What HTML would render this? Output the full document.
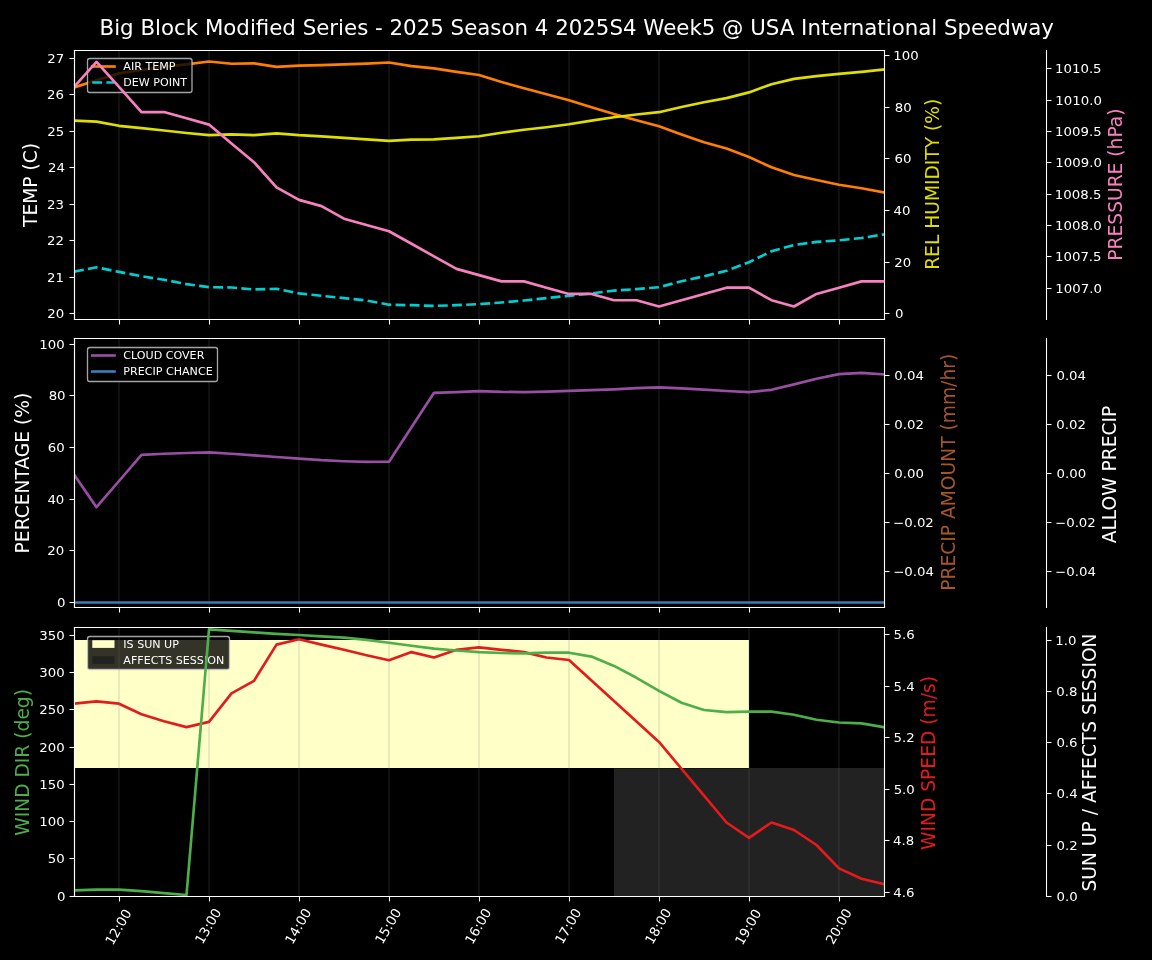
<!DOCTYPE html>
<html lang="en">
<head>
<meta charset="utf-8">
<title>Big Block Modified Series - 2025 Season 4 2025S4 Week5 @ USA International Speedway</title>
<style>
html,body{margin:0;padding:0;background:#000;overflow:hidden}
body{width:1152px;height:960px;font-family:"DejaVu Sans","Liberation Sans",sans-serif}
svg{display:block;position:absolute;left:0;top:0}
svg text{white-space:pre}
</style>
</head>
<body>
<svg width="1152" height="960" viewBox="0 0 864 720">
<defs>
<style type="text/css">*{stroke-linejoin: round; stroke-linecap: butt}</style>
</defs>
<g id="figure_1">
<g id="patch_1">
<path d="M 0 720 L 864 720 L 864 0 L 0 0 z "/>
</g>
<g id="axes_1">
<g id="patch_2">
<path d="M 55.875 239.625 L 663.375 239.625 L 663.375 37.875 L 55.875 37.875 z "/>
</g>
<g id="matplotlib.axis_1">
<g id="xtick_1">
<g id="line2d_1">
<path d="M 89.25 239.625 L 89.25 37.875 " clip-path="url(#p9fe9e23283)" style="fill: none; stroke: #696969; stroke-opacity: 0.15; stroke-width: 1.5; stroke-linecap: square"/>
</g>
<g id="line2d_2">
<g>
<path d="M 0 0 L 0 3.75" transform="translate(89.625 239.625)" style="fill: #ffffff; stroke: #ffffff; stroke-width: 0.8"/>
</g>
</g>
</g>
<g id="xtick_2">
<g id="line2d_3">
<path d="M 156.75 239.625 L 156.75 37.875 " clip-path="url(#p9fe9e23283)" style="fill: none; stroke: #696969; stroke-opacity: 0.15; stroke-width: 1.5; stroke-linecap: square"/>
</g>
<g id="line2d_4">
<g>
<path d="M 0 0 L 0 3.75" transform="translate(157.125 239.625)" style="fill: #ffffff; stroke: #ffffff; stroke-width: 0.8"/>
</g>
</g>
</g>
<g id="xtick_3">
<g id="line2d_5">
<path d="M 224.25 239.625 L 224.25 37.875 " clip-path="url(#p9fe9e23283)" style="fill: none; stroke: #696969; stroke-opacity: 0.15; stroke-width: 1.5; stroke-linecap: square"/>
</g>
<g id="line2d_6">
<g>
<path d="M 0 0 L 0 3.75" transform="translate(224.625 239.625)" style="fill: #ffffff; stroke: #ffffff; stroke-width: 0.8"/>
</g>
</g>
</g>
<g id="xtick_4">
<g id="line2d_7">
<path d="M 291.75 239.625 L 291.75 37.875 " clip-path="url(#p9fe9e23283)" style="fill: none; stroke: #696969; stroke-opacity: 0.15; stroke-width: 1.5; stroke-linecap: square"/>
</g>
<g id="line2d_8">
<g>
<path d="M 0 0 L 0 3.75" transform="translate(292.125 239.625)" style="fill: #ffffff; stroke: #ffffff; stroke-width: 0.8"/>
</g>
</g>
</g>
<g id="xtick_5">
<g id="line2d_9">
<path d="M 359.25 239.625 L 359.25 37.875 " clip-path="url(#p9fe9e23283)" style="fill: none; stroke: #696969; stroke-opacity: 0.15; stroke-width: 1.5; stroke-linecap: square"/>
</g>
<g id="line2d_10">
<g>
<path d="M 0 0 L 0 3.75" transform="translate(359.625 239.625)" style="fill: #ffffff; stroke: #ffffff; stroke-width: 0.8"/>
</g>
</g>
</g>
<g id="xtick_6">
<g id="line2d_11">
<path d="M 426.75 239.625 L 426.75 37.875 " clip-path="url(#p9fe9e23283)" style="fill: none; stroke: #696969; stroke-opacity: 0.15; stroke-width: 1.5; stroke-linecap: square"/>
</g>
<g id="line2d_12">
<g>
<path d="M 0 0 L 0 3.75" transform="translate(427.125 239.625)" style="fill: #ffffff; stroke: #ffffff; stroke-width: 0.8"/>
</g>
</g>
</g>
<g id="xtick_7">
<g id="line2d_13">
<path d="M 494.25 239.625 L 494.25 37.875 " clip-path="url(#p9fe9e23283)" style="fill: none; stroke: #696969; stroke-opacity: 0.15; stroke-width: 1.5; stroke-linecap: square"/>
</g>
<g id="line2d_14">
<g>
<path d="M 0 0 L 0 3.75" transform="translate(494.625 239.625)" style="fill: #ffffff; stroke: #ffffff; stroke-width: 0.8"/>
</g>
</g>
</g>
<g id="xtick_8">
<g id="line2d_15">
<path d="M 561.75 239.625 L 561.75 37.875 " clip-path="url(#p9fe9e23283)" style="fill: none; stroke: #696969; stroke-opacity: 0.15; stroke-width: 1.5; stroke-linecap: square"/>
</g>
<g id="line2d_16">
<g>
<path d="M 0 0 L 0 3.75" transform="translate(562.125 239.625)" style="fill: #ffffff; stroke: #ffffff; stroke-width: 0.8"/>
</g>
</g>
</g>
<g id="xtick_9">
<g id="line2d_17">
<path d="M 629.25 239.625 L 629.25 37.875 " clip-path="url(#p9fe9e23283)" style="fill: none; stroke: #696969; stroke-opacity: 0.15; stroke-width: 1.5; stroke-linecap: square"/>
</g>
<g id="line2d_18">
<g>
<path d="M 0 0 L 0 3.75" transform="translate(629.625 239.625)" style="fill: #ffffff; stroke: #ffffff; stroke-width: 0.8"/>
</g>
</g>
</g>
</g>
<g id="matplotlib.axis_2">
<g id="ytick_1">
<g id="line2d_19">
<g>
<path d="M 0 0 L -3.75 0" transform="translate(55.875 235.125)" style="fill: #ffffff; stroke: #ffffff; stroke-width: 0.8"/>
</g>
</g>
<g id="text_1">
<text style="font-size: 10px; font-family: 'DejaVu Sans', 'Liberation Sans', sans-serif; text-anchor: end; fill: #ffffff" x="48.5" y="238.549219" transform="translate(-0.356 0.000) matrix(1 0 0 0.930 0 16.6984)">20</text>
</g>
</g>
<g id="ytick_2">
<g id="line2d_20">
<g>
<path d="M 0 0 L -3.75 0" transform="translate(55.875 208.125)" style="fill: #ffffff; stroke: #ffffff; stroke-width: 0.8"/>
</g>
</g>
<g id="text_2">
<text style="font-size: 10px; font-family: 'DejaVu Sans', 'Liberation Sans', sans-serif; text-anchor: end; fill: #ffffff" x="48.5" y="211.22779" transform="translate(-0.441 0.000) matrix(1 0 0 0.930 0 14.7859)">21</text>
</g>
</g>
<g id="ytick_3">
<g id="line2d_21">
<g>
<path d="M 0 0 L -3.75 0" transform="translate(55.875 180.375)" style="fill: #ffffff; stroke: #ffffff; stroke-width: 0.8"/>
</g>
</g>
<g id="text_3">
<text style="font-size: 10px; font-family: 'DejaVu Sans', 'Liberation Sans', sans-serif; text-anchor: end; fill: #ffffff" x="48.5" y="183.906362" transform="translate(-0.462 0.000) matrix(1 0 0 0.930 0 12.8734)">22</text>
</g>
</g>
<g id="ytick_4">
<g id="line2d_22">
<g>
<path d="M 0 0 L -3.75 0" transform="translate(55.875 153.375)" style="fill: #ffffff; stroke: #ffffff; stroke-width: 0.8"/>
</g>
</g>
<g id="text_4">
<text style="font-size: 10px; font-family: 'DejaVu Sans', 'Liberation Sans', sans-serif; text-anchor: end; fill: #ffffff" x="48.5" y="156.584933" transform="translate(-0.498 0.000) matrix(1 0 0 0.930 0 10.9609)">23</text>
</g>
</g>
<g id="ytick_5">
<g id="line2d_23">
<g>
<path d="M 0 0 L -3.75 0" transform="translate(55.875 125.625)" style="fill: #ffffff; stroke: #ffffff; stroke-width: 0.8"/>
</g>
</g>
<g id="text_5">
<text style="font-size: 10px; font-family: 'DejaVu Sans', 'Liberation Sans', sans-serif; text-anchor: end; fill: #ffffff" x="48.5" y="129.263504" transform="translate(0.309 0.000) matrix(1 0 0 0.930 0 9.0484)">24</text>
</g>
</g>
<g id="ytick_6">
<g id="line2d_24">
<g>
<path d="M 0 0 L -3.75 0" transform="translate(55.875 98.625)" style="fill: #ffffff; stroke: #ffffff; stroke-width: 0.8"/>
</g>
</g>
<g id="text_6">
<text style="font-size: 10px; font-family: 'DejaVu Sans', 'Liberation Sans', sans-serif; text-anchor: end; fill: #ffffff" x="48.5" y="101.942076" transform="translate(-0.408 0.000) matrix(1 0 0 0.930 0 7.1359)">25</text>
</g>
</g>
<g id="ytick_7">
<g id="line2d_25">
<g>
<path d="M 0 0 L -3.75 0" transform="translate(55.875 70.875)" style="fill: #ffffff; stroke: #ffffff; stroke-width: 0.8"/>
</g>
</g>
<g id="text_7">
<text style="font-size: 10px; font-family: 'DejaVu Sans', 'Liberation Sans', sans-serif; text-anchor: end; fill: #ffffff" x="48.5" y="74.620647" transform="translate(-0.495 0.000) matrix(1 0 0 0.930 0 5.2234)">26</text>
</g>
</g>
<g id="ytick_8">
<g id="line2d_26">
<g>
<path d="M 0 0 L -3.75 0" transform="translate(55.875 43.875)" style="fill: #ffffff; stroke: #ffffff; stroke-width: 0.8"/>
</g>
</g>
<g id="text_8">
<text style="font-size: 10px; font-family: 'DejaVu Sans', 'Liberation Sans', sans-serif; text-anchor: end; fill: #ffffff" x="48.5" y="47.299219" transform="translate(-0.411 0.000) matrix(1 0 0 0.930 0 3.3109)">27</text>
</g>
</g>
<g id="text_9">
<text style="font-size: 14px; font-family: 'DejaVu Sans', 'Liberation Sans', sans-serif; text-anchor: middle; fill: #ffffff" x="27.975" y="138.750" transform="translate(0.000 0.000) rotate(-90 27.975 138.750)">TEMP (C)</text>
</g>
</g>
<g id="line2d_27">
<path d="M 55.5 65.625 L 72.375 60.15 L 89.25 55.05 L 106.125 52.5 L 123 50.175 L 139.875 48.3 L 156.75 46.125 L 173.625 47.8125 L 190.5 47.475 L 207.375 50.175 L 224.25 49.2 L 241.125 48.9 L 258 48.3 L 274.875 47.7 L 291.75 46.875 L 308.625 49.575 L 325.5 51.3 L 342.375 53.925 L 359.25 56.25 L 376.125 61.5 L 393 66.225 L 409.875 70.65 L 426.75 75.225 L 443.625 80.4 L 460.5 85.575 L 477.375 90.225 L 494.25 94.6875 L 511.125 100.8 L 528 106.65 L 544.875 111.375 L 561.75 117.75 L 578.625 125.475 L 595.5 131.25 L 612.375 135 L 629.25 138.525 L 646.125 141.225 L 663 144.375 " clip-path="url(#p9fe9e23283)" style="fill: none; stroke: #ff7f00; stroke-width: 2; stroke-linecap: square"/>
</g>
<g id="line2d_28">
<path d="M 55.5 203.7 L 72.375 200.475 L 89.25 203.925 L 106.125 207.1875 L 123 209.85 L 139.875 213.075 L 156.75 215.4 L 173.625 215.625 L 190.5 217.125 L 207.375 216.5625 L 224.25 220.05 L 241.125 221.85 L 258 223.575 L 274.875 225.375 L 291.75 228.525 L 308.625 228.9 L 325.5 229.425 L 342.375 228.9 L 359.25 228.075 L 376.125 226.875 L 393 225.375 L 409.875 223.575 L 426.75 221.85 L 443.625 220.05 L 460.5 217.95 L 477.375 216.825 L 494.25 215.4 L 511.125 210.9375 L 528 207.1875 L 544.875 203.1 L 561.75 196.65 L 578.625 188.4375 L 595.5 183.75 L 612.375 181.425 L 629.25 180.225 L 646.125 178.5 L 663 175.8 " clip-path="url(#p9fe9e23283)" style="fill: none; stroke-dasharray: 7.4,3.2; stroke-dashoffset: 0; stroke: #00ced1; stroke-width: 2"/>
</g>
<g id="patch_3">
<path d="M 55.875 239.625 L 55.875 37.875 " style="fill: none; stroke: #ffffff; stroke-width: 0.8; stroke-linejoin: miter; stroke-linecap: square"/>
</g>
<g id="patch_4">
<path d="M 663.375 239.625 L 663.375 37.875 " style="fill: none; stroke: #ffffff; stroke-width: 0.8; stroke-linejoin: miter; stroke-linecap: square"/>
</g>
<g id="patch_5">
<path d="M 55.875 239.625 L 663.375 239.625 " style="fill: none; stroke: #ffffff; stroke-width: 0.8; stroke-linejoin: miter; stroke-linecap: square"/>
</g>
<g id="patch_6">
<path d="M 55.875 37.875 L 663.375 37.875 " style="fill: none; stroke: #ffffff; stroke-width: 0.8; stroke-linejoin: miter; stroke-linecap: square"/>
</g>
<g id="patch_7">
<path d="M 67.275 43.875 L 142.35 43.875 Q 144 43.875 144 45.525 L 144 67.725 Q 144 69.375 142.35 69.375 L 67.275 69.375 Q 65.625 69.375 65.625 67.725 L 65.625 45.525 Q 65.625 43.875 67.275 43.875 z " style="fill-opacity: 0.8; stroke: #cccccc; stroke-opacity: 0.8; stroke-linejoin: miter"/>
</g>
<g id="line2d_29">
<path d="M 69.225 49.875 L 85.875 49.875 " style="fill: none; stroke: #ff7f00; stroke-width: 2; stroke-linecap: square"/>
</g>
<g id="text_10">
<text style="font-size: 8.33px; font-family: 'DejaVu Sans', 'Liberation Sans', sans-serif; text-anchor: start; fill: #ffffff" x="92.475" y="52.425" transform="rotate(-0 92.475 52.425)">AIR TEMP</text>
</g>
<g id="line2d_30">
<path d="M 69.225 61.875 L 85.875 61.875 " style="fill: none; stroke-dasharray: 7.4,3.2; stroke-dashoffset: 0; stroke: #00ced1; stroke-width: 2"/>
</g>
<g id="text_11">
<text style="font-size: 8.33px; font-family: 'DejaVu Sans', 'Liberation Sans', sans-serif; text-anchor: start; fill: #ffffff" x="92.475" y="64.425" transform="rotate(-0 92.475 64.425)">DEW POINT</text>
</g>
</g>
<g id="axes_2">
<g id="matplotlib.axis_3">
<g id="ytick_9">
<g id="line2d_31">
<g>
<path d="M 0 0 L 3.75 0" transform="translate(663.375 235.125)" style="fill: #ffffff; stroke: #ffffff; stroke-width: 0.8"/>
</g>
</g>
<g id="text_12">
<text style="font-size: 10px; font-family: 'DejaVu Sans', 'Liberation Sans', sans-serif; text-anchor: start; fill: #ffffff" x="670.675" y="238.836238" transform="translate(0.596 0.000) matrix(1 0 0 0.930 0 16.7185)">0</text>
</g>
</g>
<g id="ytick_10">
<g id="line2d_32">
<g>
<path d="M 0 0 L 3.75 0" transform="translate(663.375 196.875)" style="fill: #ffffff; stroke: #ffffff; stroke-width: 0.8"/>
</g>
</g>
<g id="text_13">
<text style="font-size: 10px; font-family: 'DejaVu Sans', 'Liberation Sans', sans-serif; text-anchor: start; fill: #ffffff" x="670.675" y="200.08143" transform="translate(0.000 0.000) matrix(1 0 0 0.930 0 14.0057)">20</text>
</g>
</g>
<g id="ytick_11">
<g id="line2d_33">
<g>
<path d="M 0 0 L 3.75 0" transform="translate(663.375 157.875)" style="fill: #ffffff; stroke: #ffffff; stroke-width: 0.8"/>
</g>
</g>
<g id="text_14">
<text style="font-size: 10px; font-family: 'DejaVu Sans', 'Liberation Sans', sans-serif; text-anchor: start; fill: #ffffff" x="670.675" y="161.326623" transform="translate(-0.616 0.000) matrix(1 0 0 0.930 0 11.2929)">40</text>
</g>
</g>
<g id="ytick_12">
<g id="line2d_34">
<g>
<path d="M 0 0 L 3.75 0" transform="translate(663.375 118.875)" style="fill: #ffffff; stroke: #ffffff; stroke-width: 0.8"/>
</g>
</g>
<g id="text_15">
<text style="font-size: 10px; font-family: 'DejaVu Sans', 'Liberation Sans', sans-serif; text-anchor: start; fill: #ffffff" x="670.675" y="122.571815" transform="translate(0.229 0.000) matrix(1 0 0 0.930 0 8.5800)">60</text>
</g>
</g>
<g id="ytick_13">
<g id="line2d_35">
<g>
<path d="M 0 0 L 3.75 0" transform="translate(663.375 80.625)" style="fill: #ffffff; stroke: #ffffff; stroke-width: 0.8"/>
</g>
</g>
<g id="text_16">
<text style="font-size: 10px; font-family: 'DejaVu Sans', 'Liberation Sans', sans-serif; text-anchor: start; fill: #ffffff" x="670.675" y="83.817007" transform="translate(0.325 0.000) matrix(1 0 0 0.930 0 5.8672)">80</text>
</g>
</g>
<g id="ytick_14">
<g id="line2d_36">
<g>
<path d="M 0 0 L 3.75 0" transform="translate(663.375 41.625)" style="fill: #ffffff; stroke: #ffffff; stroke-width: 0.8"/>
</g>
</g>
<g id="text_17">
<text style="font-size: 10px; font-family: 'DejaVu Sans', 'Liberation Sans', sans-serif; text-anchor: start; fill: #ffffff" x="670.675" y="45.0622" transform="translate(-0.699 0.000) matrix(1 0 0 0.930 0 3.1544)">100</text>
</g>
</g>
<g id="text_18">
<text style="font-size: 14px; font-family: 'DejaVu Sans', 'Liberation Sans', sans-serif; text-anchor: middle; fill: #dede00" x="704.602" y="138.750" transform="translate(0.000 -0.572) rotate(-90 704.602 138.750)">REL HUMIDITY (%)</text>
</g>
</g>
<g id="line2d_37">
<path d="M 55.5 90.45 L 72.375 91.2 L 89.25 94.35 L 106.125 96.075 L 123 97.875 L 139.875 99.75 L 156.75 101.4 L 173.625 100.8 L 190.5 101.4 L 207.375 99.975 L 224.25 101.4 L 241.125 102.3 L 258 103.35 L 274.875 104.55 L 291.75 105.6 L 308.625 104.775 L 325.5 104.55 L 342.375 103.35 L 359.25 102.1875 L 376.125 99.6 L 393 97.35 L 409.875 95.4 L 426.75 93.15 L 443.625 90.45 L 460.5 87.9 L 477.375 85.875 L 494.25 84.15 L 511.125 80.25 L 528 76.725 L 544.875 73.575 L 561.75 69.3 L 578.625 63.15 L 595.5 59.175 L 612.375 57.075 L 629.25 55.425 L 646.125 53.925 L 663 52.125 " clip-path="url(#pb48f5ffb36)" style="fill: none; stroke: #dede00; stroke-width: 2; stroke-linecap: square"/>
</g>
<g id="patch_8">
<path d="M 55.875 239.625 L 55.875 37.875 " style="fill: none; stroke: #ffffff; stroke-width: 0.8; stroke-linejoin: miter; stroke-linecap: square"/>
</g>
<g id="patch_9">
<path d="M 663.375 239.625 L 663.375 37.875 " style="fill: none; stroke: #ffffff; stroke-width: 0.8; stroke-linejoin: miter; stroke-linecap: square"/>
</g>
<g id="patch_10">
<path d="M 55.875 239.625 L 663.375 239.625 " style="fill: none; stroke: #ffffff; stroke-width: 0.8; stroke-linejoin: miter; stroke-linecap: square"/>
</g>
<g id="patch_11">
<path d="M 55.875 37.875 L 663.375 37.875 " style="fill: none; stroke: #ffffff; stroke-width: 0.8; stroke-linejoin: miter; stroke-linecap: square"/>
</g>
</g>
<g id="axes_3">
<g id="matplotlib.axis_4">
<g id="ytick_15">
<g id="line2d_38">
<g>
<path d="M 0 0 L 3.75 0" transform="translate(784.875 216.375)" style="fill: #ffffff; stroke: #ffffff; stroke-width: 0.8"/>
</g>
</g>
<g id="text_19">
<text style="font-size: 10px; font-family: 'DejaVu Sans', 'Liberation Sans', sans-serif; text-anchor: start; fill: #ffffff" x="791.5" y="219.458834" transform="translate(0.000 0.000) matrix(1 0 0 0.930 0 15.3621)">1007.0</text>
</g>
</g>
<g id="ytick_16">
<g id="line2d_39">
<g>
<path d="M 0 0 L 3.75 0" transform="translate(784.875 192.375)" style="fill: #ffffff; stroke: #ffffff; stroke-width: 0.8"/>
</g>
</g>
<g id="text_20">
<text style="font-size: 10px; font-family: 'DejaVu Sans', 'Liberation Sans', sans-serif; text-anchor: start; fill: #ffffff" x="791.5" y="195.971072" transform="translate(-0.269 0.000) matrix(1 0 0 0.930 0 13.7180)">1007.5</text>
</g>
</g>
<g id="ytick_17">
<g id="line2d_40">
<g>
<path d="M 0 0 L 3.75 0" transform="translate(784.875 169.125)" style="fill: #ffffff; stroke: #ffffff; stroke-width: 0.8"/>
</g>
</g>
<g id="text_21">
<text style="font-size: 10px; font-family: 'DejaVu Sans', 'Liberation Sans', sans-serif; text-anchor: start; fill: #ffffff" x="791.5" y="172.48331" transform="translate(-0.219 0.000) matrix(1 0 0 0.930 0 12.0738)">1008.0</text>
</g>
</g>
<g id="ytick_18">
<g id="line2d_41">
<g>
<path d="M 0 0 L 3.75 0" transform="translate(784.875 145.875)" style="fill: #ffffff; stroke: #ffffff; stroke-width: 0.8"/>
</g>
</g>
<g id="text_22">
<text style="font-size: 10px; font-family: 'DejaVu Sans', 'Liberation Sans', sans-serif; text-anchor: start; fill: #ffffff" x="791.5" y="148.995547" transform="translate(-0.376 0.000) matrix(1 0 0 0.930 0 10.4297)">1008.5</text>
</g>
</g>
<g id="ytick_19">
<g id="line2d_42">
<g>
<path d="M 0 0 L 3.75 0" transform="translate(784.875 121.875)" style="fill: #ffffff; stroke: #ffffff; stroke-width: 0.8"/>
</g>
</g>
<g id="text_23">
<text style="font-size: 10px; font-family: 'DejaVu Sans', 'Liberation Sans', sans-serif; text-anchor: start; fill: #ffffff" x="791.5" y="125.507785" transform="translate(0.000 0.000) matrix(1 0 0 0.930 0 8.7855)">1009.0</text>
</g>
</g>
<g id="ytick_20">
<g id="line2d_43">
<g>
<path d="M 0 0 L 3.75 0" transform="translate(784.875 98.625)" style="fill: #ffffff; stroke: #ffffff; stroke-width: 0.8"/>
</g>
</g>
<g id="text_24">
<text style="font-size: 10px; font-family: 'DejaVu Sans', 'Liberation Sans', sans-serif; text-anchor: start; fill: #ffffff" x="791.5" y="102.020023" transform="translate(-0.242 0.000) matrix(1 0 0 0.930 0 7.1414)">1009.5</text>
</g>
</g>
<g id="ytick_21">
<g id="line2d_44">
<g>
<path d="M 0 0 L 3.75 0" transform="translate(784.875 75.375)" style="fill: #ffffff; stroke: #ffffff; stroke-width: 0.8"/>
</g>
</g>
<g id="text_25">
<text style="font-size: 10px; font-family: 'DejaVu Sans', 'Liberation Sans', sans-serif; text-anchor: start; fill: #ffffff" x="791.5" y="78.532261" transform="translate(0.000 0.000) matrix(1 0 0 0.930 0 5.4973)">1010.0</text>
</g>
</g>
<g id="ytick_22">
<g id="line2d_45">
<g>
<path d="M 0 0 L 3.75 0" transform="translate(784.875 51.375)" style="fill: #ffffff; stroke: #ffffff; stroke-width: 0.8"/>
</g>
</g>
<g id="text_26">
<text style="font-size: 10px; font-family: 'DejaVu Sans', 'Liberation Sans', sans-serif; text-anchor: start; fill: #ffffff" x="791.5" y="55.044498" transform="translate(-0.251 0.000) matrix(1 0 0 0.930 0 3.8531)">1010.5</text>
</g>
</g>
<g id="text_27">
<text style="font-size: 14px; font-family: 'DejaVu Sans', 'Liberation Sans', sans-serif; text-anchor: middle; fill: #f781bf" x="841.253" y="138.750" transform="translate(0.000 -0.320) rotate(-90 841.253 138.750)">PRESSURE (hPa)</text>
</g>
</g>
<g id="line2d_46">
<path d="M 55.5 65.2215 L 72.375 46.4055 L 89.25 65.2215 L 106.125 84.0375 L 123 84.0375 L 139.875 88.7415 L 156.75 93.4455 L 173.625 107.5575 L 190.5 121.6695 L 207.375 140.4855 L 224.25 149.8935 L 241.125 154.5975 L 258 164.0055 L 274.875 168.7095 L 291.75 173.4135 L 308.625 182.8215 L 325.5 192.2295 L 342.375 201.6375 L 359.25 206.3415 L 376.125 211.0455 L 393 211.0455 L 409.875 215.7495 L 426.75 220.4535 L 443.625 220.4535 L 460.5 225.1575 L 477.375 225.1575 L 494.25 229.8615 L 511.125 225.1575 L 528 220.4535 L 544.875 215.7495 L 561.75 215.7495 L 578.625 225.1575 L 595.5 229.8615 L 612.375 220.4535 L 629.25 215.7495 L 646.125 211.0455 L 663 211.0455 " clip-path="url(#pb48f5ffb36)" style="fill: none; stroke: #f781bf; stroke-width: 2; stroke-linecap: square"/>
</g>
<g id="patch_12">
<path d="M 55.875 239.625 L 55.875 37.875 " style="fill: none; stroke: #ffffff; stroke-width: 0.8; stroke-linejoin: miter; stroke-linecap: square"/>
</g>
<g id="patch_13">
<path d="M 784.875 239.625 L 784.875 37.875 " style="fill: none; stroke: #ffffff; stroke-width: 0.8; stroke-linejoin: miter; stroke-linecap: square"/>
</g>
<g id="patch_14">
<path d="M 55.875 239.625 L 663.375 239.625 " style="fill: none; stroke: #ffffff; stroke-width: 0.8; stroke-linejoin: miter; stroke-linecap: square"/>
</g>
<g id="patch_15">
<path d="M 55.875 37.875 L 663.375 37.875 " style="fill: none; stroke: #ffffff; stroke-width: 0.8; stroke-linejoin: miter; stroke-linecap: square"/>
</g>
</g>
<g id="axes_4">
<g id="patch_16">
<path d="M 55.875 455.625 L 663.375 455.625 L 663.375 253.875 L 55.875 253.875 z "/>
</g>
<g id="matplotlib.axis_5">
<g id="xtick_10">
<g id="line2d_47">
<path d="M 89.25 455.625 L 89.25 253.875 " clip-path="url(#p041c2277cc)" style="fill: none; stroke: #696969; stroke-opacity: 0.15; stroke-width: 1.5; stroke-linecap: square"/>
</g>
<g id="line2d_48">
<g>
<path d="M 0 0 L 0 3.75" transform="translate(89.625 455.625)" style="fill: #ffffff; stroke: #ffffff; stroke-width: 0.8"/>
</g>
</g>
</g>
<g id="xtick_11">
<g id="line2d_49">
<path d="M 156.75 455.625 L 156.75 253.875 " clip-path="url(#p041c2277cc)" style="fill: none; stroke: #696969; stroke-opacity: 0.15; stroke-width: 1.5; stroke-linecap: square"/>
</g>
<g id="line2d_50">
<g>
<path d="M 0 0 L 0 3.75" transform="translate(157.125 455.625)" style="fill: #ffffff; stroke: #ffffff; stroke-width: 0.8"/>
</g>
</g>
</g>
<g id="xtick_12">
<g id="line2d_51">
<path d="M 224.25 455.625 L 224.25 253.875 " clip-path="url(#p041c2277cc)" style="fill: none; stroke: #696969; stroke-opacity: 0.15; stroke-width: 1.5; stroke-linecap: square"/>
</g>
<g id="line2d_52">
<g>
<path d="M 0 0 L 0 3.75" transform="translate(224.625 455.625)" style="fill: #ffffff; stroke: #ffffff; stroke-width: 0.8"/>
</g>
</g>
</g>
<g id="xtick_13">
<g id="line2d_53">
<path d="M 291.75 455.625 L 291.75 253.875 " clip-path="url(#p041c2277cc)" style="fill: none; stroke: #696969; stroke-opacity: 0.15; stroke-width: 1.5; stroke-linecap: square"/>
</g>
<g id="line2d_54">
<g>
<path d="M 0 0 L 0 3.75" transform="translate(292.125 455.625)" style="fill: #ffffff; stroke: #ffffff; stroke-width: 0.8"/>
</g>
</g>
</g>
<g id="xtick_14">
<g id="line2d_55">
<path d="M 359.25 455.625 L 359.25 253.875 " clip-path="url(#p041c2277cc)" style="fill: none; stroke: #696969; stroke-opacity: 0.15; stroke-width: 1.5; stroke-linecap: square"/>
</g>
<g id="line2d_56">
<g>
<path d="M 0 0 L 0 3.75" transform="translate(359.625 455.625)" style="fill: #ffffff; stroke: #ffffff; stroke-width: 0.8"/>
</g>
</g>
</g>
<g id="xtick_15">
<g id="line2d_57">
<path d="M 426.75 455.625 L 426.75 253.875 " clip-path="url(#p041c2277cc)" style="fill: none; stroke: #696969; stroke-opacity: 0.15; stroke-width: 1.5; stroke-linecap: square"/>
</g>
<g id="line2d_58">
<g>
<path d="M 0 0 L 0 3.75" transform="translate(427.125 455.625)" style="fill: #ffffff; stroke: #ffffff; stroke-width: 0.8"/>
</g>
</g>
</g>
<g id="xtick_16">
<g id="line2d_59">
<path d="M 494.25 455.625 L 494.25 253.875 " clip-path="url(#p041c2277cc)" style="fill: none; stroke: #696969; stroke-opacity: 0.15; stroke-width: 1.5; stroke-linecap: square"/>
</g>
<g id="line2d_60">
<g>
<path d="M 0 0 L 0 3.75" transform="translate(494.625 455.625)" style="fill: #ffffff; stroke: #ffffff; stroke-width: 0.8"/>
</g>
</g>
</g>
<g id="xtick_17">
<g id="line2d_61">
<path d="M 561.75 455.625 L 561.75 253.875 " clip-path="url(#p041c2277cc)" style="fill: none; stroke: #696969; stroke-opacity: 0.15; stroke-width: 1.5; stroke-linecap: square"/>
</g>
<g id="line2d_62">
<g>
<path d="M 0 0 L 0 3.75" transform="translate(562.125 455.625)" style="fill: #ffffff; stroke: #ffffff; stroke-width: 0.8"/>
</g>
</g>
</g>
<g id="xtick_18">
<g id="line2d_63">
<path d="M 629.25 455.625 L 629.25 253.875 " clip-path="url(#p041c2277cc)" style="fill: none; stroke: #696969; stroke-opacity: 0.15; stroke-width: 1.5; stroke-linecap: square"/>
</g>
<g id="line2d_64">
<g>
<path d="M 0 0 L 0 3.75" transform="translate(629.625 455.625)" style="fill: #ffffff; stroke: #ffffff; stroke-width: 0.8"/>
</g>
</g>
</g>
</g>
<g id="matplotlib.axis_6">
<g id="ytick_23">
<g id="line2d_65">
<g>
<path d="M 0 0 L -3.75 0" transform="translate(55.875 451.875)" style="fill: #ffffff; stroke: #ffffff; stroke-width: 0.8"/>
</g>
</g>
<g id="text_28">
<text style="font-size: 10px; font-family: 'DejaVu Sans', 'Liberation Sans', sans-serif; text-anchor: end; fill: #ffffff" x="48.5" y="455.304988" transform="translate(0.596 0.000) matrix(1 0 0 0.930 0 31.8713)">0</text>
</g>
</g>
<g id="ytick_24">
<g id="line2d_66">
<g>
<path d="M 0 0 L -3.75 0" transform="translate(55.875 412.875)" style="fill: #ffffff; stroke: #ffffff; stroke-width: 0.8"/>
</g>
</g>
<g id="text_29">
<text style="font-size: 10px; font-family: 'DejaVu Sans', 'Liberation Sans', sans-serif; text-anchor: end; fill: #ffffff" x="48.5" y="416.55018" transform="translate(-0.356 0.000) matrix(1 0 0 0.930 0 29.1585)">20</text>
</g>
</g>
<g id="ytick_25">
<g id="line2d_67">
<g>
<path d="M 0 0 L -3.75 0" transform="translate(55.875 374.625)" style="fill: #ffffff; stroke: #ffffff; stroke-width: 0.8"/>
</g>
</g>
<g id="text_30">
<text style="font-size: 10px; font-family: 'DejaVu Sans', 'Liberation Sans', sans-serif; text-anchor: end; fill: #ffffff" x="48.5" y="377.795373" transform="translate(-0.235 0.000) matrix(1 0 0 0.930 0 26.4457)">40</text>
</g>
</g>
<g id="ytick_26">
<g id="line2d_68">
<g>
<path d="M 0 0 L -3.75 0" transform="translate(55.875 335.625)" style="fill: #ffffff; stroke: #ffffff; stroke-width: 0.8"/>
</g>
</g>
<g id="text_31">
<text style="font-size: 10px; font-family: 'DejaVu Sans', 'Liberation Sans', sans-serif; text-anchor: end; fill: #ffffff" x="48.5" y="339.040565" transform="translate(0.000 0.000) matrix(1 0 0 0.930 0 23.7328)">60</text>
</g>
</g>
<g id="ytick_27">
<g id="line2d_69">
<g>
<path d="M 0 0 L -3.75 0" transform="translate(55.875 296.625)" style="fill: #ffffff; stroke: #ffffff; stroke-width: 0.8"/>
</g>
</g>
<g id="text_32">
<text style="font-size: 10px; font-family: 'DejaVu Sans', 'Liberation Sans', sans-serif; text-anchor: end; fill: #ffffff" x="48.5" y="300.285757" transform="translate(0.702 0.000) matrix(1 0 0 0.930 0 21.0200)">80</text>
</g>
</g>
<g id="ytick_28">
<g id="line2d_70">
<g>
<path d="M 0 0 L -3.75 0" transform="translate(55.875 258.375)" style="fill: #ffffff; stroke: #ffffff; stroke-width: 0.8"/>
</g>
</g>
<g id="text_33">
<text style="font-size: 10px; font-family: 'DejaVu Sans', 'Liberation Sans', sans-serif; text-anchor: end; fill: #ffffff" x="48.5" y="261.53095" transform="translate(0.000 0.000) matrix(1 0 0 0.930 0 18.3072)">100</text>
</g>
</g>
<g id="text_34">
<text style="font-size: 14px; font-family: 'DejaVu Sans', 'Liberation Sans', sans-serif; text-anchor: middle; fill: #ffffff" x="21.600" y="355.500" transform="translate(0.000 -0.714) rotate(-90 21.600 355.500)">PERCENTAGE (%)</text>
</g>
</g>
<g id="line2d_71">
<path d="M 55.5 355.8 L 72.375 380.4 L 89.25 360.75 L 106.125 341.175 L 123 340.3125 L 139.875 339.75 L 156.75 339.225 L 173.625 340.3125 L 190.5 341.55 L 207.375 342.75 L 224.25 343.95 L 241.125 345.15 L 258 345.9375 L 274.875 346.425 L 291.75 346.275 L 308.625 320.475 L 325.5 294.6 L 342.375 294.075 L 359.25 293.4 L 376.125 293.925 L 393 294.075 L 409.875 293.7 L 426.75 293.175 L 443.625 292.575 L 460.5 291.975 L 477.375 291.075 L 494.25 290.475 L 511.125 291.3 L 528 292.2 L 544.875 293.25 L 561.75 294.075 L 578.625 292.35 L 595.5 288.3 L 612.375 284.025 L 629.25 280.575 L 646.125 279.675 L 663 280.8 " clip-path="url(#p041c2277cc)" style="fill: none; stroke: #984ea3; stroke-width: 2; stroke-linecap: square"/>
</g>
<g id="line2d_72">
<path d="M 55.5 451.875 L 72.375 451.875 L 89.25 451.875 L 106.125 451.875 L 123 451.875 L 139.875 451.875 L 156.75 451.875 L 173.625 451.875 L 190.5 451.875 L 207.375 451.875 L 224.25 451.875 L 241.125 451.875 L 258 451.875 L 274.875 451.875 L 291.75 451.875 L 308.625 451.875 L 325.5 451.875 L 342.375 451.875 L 359.25 451.875 L 376.125 451.875 L 393 451.875 L 409.875 451.875 L 426.75 451.875 L 443.625 451.875 L 460.5 451.875 L 477.375 451.875 L 494.25 451.875 L 511.125 451.875 L 528 451.875 L 544.875 451.875 L 561.75 451.875 L 578.625 451.875 L 595.5 451.875 L 612.375 451.875 L 629.25 451.875 L 646.125 451.875 L 663 451.875 " clip-path="url(#p041c2277cc)" style="fill: none; stroke: #377eb8; stroke-width: 2; stroke-linecap: square"/>
</g>
<g id="patch_17">
<path d="M 55.875 455.625 L 55.875 253.875 " style="fill: none; stroke: #ffffff; stroke-width: 0.8; stroke-linejoin: miter; stroke-linecap: square"/>
</g>
<g id="patch_18">
<path d="M 663.375 455.625 L 663.375 253.875 " style="fill: none; stroke: #ffffff; stroke-width: 0.8; stroke-linejoin: miter; stroke-linecap: square"/>
</g>
<g id="patch_19">
<path d="M 55.875 455.625 L 663.375 455.625 " style="fill: none; stroke: #ffffff; stroke-width: 0.8; stroke-linejoin: miter; stroke-linecap: square"/>
</g>
<g id="patch_20">
<path d="M 55.875 253.875 L 663.375 253.875 " style="fill: none; stroke: #ffffff; stroke-width: 0.8; stroke-linejoin: miter; stroke-linecap: square"/>
</g>
<g id="patch_21">
<path d="M 67.275 260.625 L 161.475 260.625 Q 163.125 260.625 163.125 262.275 L 163.125 284.475 Q 163.125 286.125 161.475 286.125 L 67.275 286.125 Q 65.625 286.125 65.625 284.475 L 65.625 262.275 Q 65.625 260.625 67.275 260.625 z " style="fill-opacity: 0.8; stroke: #cccccc; stroke-opacity: 0.8; stroke-linejoin: miter"/>
</g>
<g id="line2d_73">
<path d="M 69.225 266.625 L 85.875 266.625 " style="fill: none; stroke: #984ea3; stroke-width: 2; stroke-linecap: square"/>
</g>
<g id="text_35">
<text style="font-size: 8.33px; font-family: 'DejaVu Sans', 'Liberation Sans', sans-serif; text-anchor: start; fill: #ffffff" x="92.475" y="269.175" transform="rotate(-0 92.475 269.175)">CLOUD COVER</text>
</g>
<g id="line2d_74">
<path d="M 69.225 278.625 L 85.875 278.625 " style="fill: none; stroke: #377eb8; stroke-width: 2; stroke-linecap: square"/>
</g>
<g id="text_36">
<text style="font-size: 8.33px; font-family: 'DejaVu Sans', 'Liberation Sans', sans-serif; text-anchor: start; fill: #ffffff" x="92.475" y="281.175" transform="rotate(-0 92.475 281.175)">PRECIP CHANCE</text>
</g>
</g>
<g id="axes_5">
<g id="FillBetweenPolyCollection_1">
<g clip-path="url(#p041c2277cc)">
<path d="M 55.5 -365.38125 L 55.5 -365.38125 L 72.375 -365.38125 L 89.25 -365.38125 L 106.125 -365.38125 L 123 -365.38125 L 139.875 -365.38125 L 156.75 -365.38125 L 173.625 -365.38125 L 190.5 -365.38125 L 207.375 -365.38125 L 224.25 -365.38125 L 241.125 -365.38125 L 258 -365.38125 L 274.875 -365.38125 L 291.75 -365.38125 L 308.625 -365.38125 L 325.5 -365.38125 L 342.375 -365.38125 L 359.25 -365.38125 L 376.125 -365.38125 L 393 -365.38125 L 409.875 -365.38125 L 426.75 -365.38125 L 443.625 -365.38125 L 460.5 -365.38125 L 477.375 -365.38125 L 494.25 -365.38125 L 511.125 -365.38125 L 528 -365.38125 L 544.875 -365.38125 L 561.75 -365.38125 L 578.625 -365.38125 L 595.5 -365.38125 L 612.375 -365.38125 L 629.25 -365.38125 L 646.125 -365.38125 L 663 -365.38125 L 663 -365.38125 L 663 -365.38125 L 646.125 -365.38125 L 629.25 -365.38125 L 612.375 -365.38125 L 595.5 -365.38125 L 578.625 -365.38125 L 561.75 -365.38125 L 544.875 -365.38125 L 528 -365.38125 L 511.125 -365.38125 L 494.25 -365.38125 L 477.375 -365.38125 L 460.5 -365.38125 L 443.625 -365.38125 L 426.75 -365.38125 L 409.875 -365.38125 L 393 -365.38125 L 376.125 -365.38125 L 359.25 -365.38125 L 342.375 -365.38125 L 325.5 -365.38125 L 308.625 -365.38125 L 291.75 -365.38125 L 274.875 -365.38125 L 258 -365.38125 L 241.125 -365.38125 L 224.25 -365.38125 L 207.375 -365.38125 L 190.5 -365.38125 L 173.625 -365.38125 L 156.75 -365.38125 L 139.875 -365.38125 L 123 -365.38125 L 106.125 -365.38125 L 89.25 -365.38125 L 72.375 -365.38125 L 55.5 -365.38125 z" transform="translate(0 720)" style="fill: #a65628"/>
</g>
</g>
<g id="matplotlib.axis_7">
<g id="ytick_29">
<g id="line2d_75">
<g>
<path d="M 0 0 L 3.75 0" transform="translate(663.375 428.625)" style="fill: #ffffff; stroke: #ffffff; stroke-width: 0.8"/>
</g>
</g>
<g id="text_37">
<text style="font-size: 10px; font-family: 'DejaVu Sans', 'Liberation Sans', sans-serif; text-anchor: start; fill: #ffffff" x="670.675" y="431.699787" transform="translate(-0.785 0.000) matrix(1 0 0 0.930 0 30.2190)">−0.04</text>
</g>
</g>
<g id="ytick_30">
<g id="line2d_76">
<g>
<path d="M 0 0 L 3.75 0" transform="translate(663.375 391.875)" style="fill: #ffffff; stroke: #ffffff; stroke-width: 0.8"/>
</g>
</g>
<g id="text_38">
<text style="font-size: 10px; font-family: 'DejaVu Sans', 'Liberation Sans', sans-serif; text-anchor: start; fill: #ffffff" x="670.675" y="395.058878" transform="translate(-0.901 0.000) matrix(1 0 0 0.930 0 27.6541)">−0.02</text>
</g>
</g>
<g id="ytick_31">
<g id="line2d_77">
<g>
<path d="M 0 0 L 3.75 0" transform="translate(663.375 355.125)" style="fill: #ffffff; stroke: #ffffff; stroke-width: 0.8"/>
</g>
</g>
<g id="text_39">
<text style="font-size: 10px; font-family: 'DejaVu Sans', 'Liberation Sans', sans-serif; text-anchor: start; fill: #ffffff" x="670.675" y="358.417969" transform="translate(0.000 0.000) matrix(1 0 0 0.930 0 25.0893)">0.00</text>
</g>
</g>
<g id="ytick_32">
<g id="line2d_78">
<g>
<path d="M 0 0 L 3.75 0" transform="translate(663.375 318.375)" style="fill: #ffffff; stroke: #ffffff; stroke-width: 0.8"/>
</g>
</g>
<g id="text_40">
<text style="font-size: 10px; font-family: 'DejaVu Sans', 'Liberation Sans', sans-serif; text-anchor: start; fill: #ffffff" x="670.675" y="321.77706" transform="translate(0.000 0.000) matrix(1 0 0 0.930 0 22.5244)">0.02</text>
</g>
</g>
<g id="ytick_33">
<g id="line2d_79">
<g>
<path d="M 0 0 L 3.75 0" transform="translate(663.375 281.625)" style="fill: #ffffff; stroke: #ffffff; stroke-width: 0.8"/>
</g>
</g>
<g id="text_41">
<text style="font-size: 10px; font-family: 'DejaVu Sans', 'Liberation Sans', sans-serif; text-anchor: start; fill: #ffffff" x="670.675" y="285.136151" transform="translate(0.000 0.000) matrix(1 0 0 0.930 0 19.9595)">0.04</text>
</g>
</g>
<g id="text_42">
<text style="font-size: 14px; font-family: 'DejaVu Sans', 'Liberation Sans', sans-serif; text-anchor: middle; fill: #a65628" x="716.062" y="355.500" transform="translate(0.000 -1.303) rotate(-90 716.062 355.500)">PRECIP AMOUNT (mm/hr)</text>
</g>
</g>
<g id="patch_22">
<path d="M 55.875 455.625 L 55.875 253.875 " style="fill: none; stroke: #ffffff; stroke-width: 0.8; stroke-linejoin: miter; stroke-linecap: square"/>
</g>
<g id="patch_23">
<path d="M 663.375 455.625 L 663.375 253.875 " style="fill: none; stroke: #ffffff; stroke-width: 0.8; stroke-linejoin: miter; stroke-linecap: square"/>
</g>
<g id="patch_24">
<path d="M 55.875 455.625 L 663.375 455.625 " style="fill: none; stroke: #ffffff; stroke-width: 0.8; stroke-linejoin: miter; stroke-linecap: square"/>
</g>
<g id="patch_25">
<path d="M 55.875 253.875 L 663.375 253.875 " style="fill: none; stroke: #ffffff; stroke-width: 0.8; stroke-linejoin: miter; stroke-linecap: square"/>
</g>
</g>
<g id="axes_6">
<g id="matplotlib.axis_8">
<g id="ytick_34">
<g id="line2d_80">
<g>
<path d="M 0 0 L 3.75 0" transform="translate(784.875 428.625)" style="fill: #ffffff; stroke: #ffffff; stroke-width: 0.8"/>
</g>
</g>
<g id="text_43">
<text style="font-size: 10px; font-family: 'DejaVu Sans', 'Liberation Sans', sans-serif; text-anchor: start; fill: #ffffff" x="791.5" y="431.699787" transform="translate(-0.154 0.000) matrix(1 0 0 0.930 0 30.2190)">−0.04</text>
</g>
</g>
<g id="ytick_35">
<g id="line2d_81">
<g>
<path d="M 0 0 L 3.75 0" transform="translate(784.875 391.875)" style="fill: #ffffff; stroke: #ffffff; stroke-width: 0.8"/>
</g>
</g>
<g id="text_44">
<text style="font-size: 10px; font-family: 'DejaVu Sans', 'Liberation Sans', sans-serif; text-anchor: start; fill: #ffffff" x="791.5" y="395.058878" transform="translate(-0.249 0.000) matrix(1 0 0 0.930 0 27.6541)">−0.02</text>
</g>
</g>
<g id="ytick_36">
<g id="line2d_82">
<g>
<path d="M 0 0 L 3.75 0" transform="translate(784.875 355.125)" style="fill: #ffffff; stroke: #ffffff; stroke-width: 0.8"/>
</g>
</g>
<g id="text_45">
<text style="font-size: 10px; font-family: 'DejaVu Sans', 'Liberation Sans', sans-serif; text-anchor: start; fill: #ffffff" x="791.5" y="358.417969" transform="translate(0.878 0.000) matrix(1 0 0 0.930 0 25.0893)">0.00</text>
</g>
</g>
<g id="ytick_37">
<g id="line2d_83">
<g>
<path d="M 0 0 L 3.75 0" transform="translate(784.875 318.375)" style="fill: #ffffff; stroke: #ffffff; stroke-width: 0.8"/>
</g>
</g>
<g id="text_46">
<text style="font-size: 10px; font-family: 'DejaVu Sans', 'Liberation Sans', sans-serif; text-anchor: start; fill: #ffffff" x="791.5" y="321.77706" transform="translate(0.720 0.000) matrix(1 0 0 0.930 0 22.5244)">0.02</text>
</g>
</g>
<g id="ytick_38">
<g id="line2d_84">
<g>
<path d="M 0 0 L 3.75 0" transform="translate(784.875 281.625)" style="fill: #ffffff; stroke: #ffffff; stroke-width: 0.8"/>
</g>
</g>
<g id="text_47">
<text style="font-size: 10px; font-family: 'DejaVu Sans', 'Liberation Sans', sans-serif; text-anchor: start; fill: #ffffff" x="791.5" y="285.136151" transform="translate(0.814 0.000) matrix(1 0 0 0.930 0 19.9595)">0.04</text>
</g>
</g>
<g id="text_48">
<text style="font-size: 14px; font-family: 'DejaVu Sans', 'Liberation Sans', sans-serif; text-anchor: middle; fill: #ffffff" x="836.783" y="355.500" transform="translate(0.000 0.364) rotate(-90 836.783 355.500)">ALLOW PRECIP</text>
</g>
</g>
<g id="patch_26">
<path d="M 55.875 455.625 L 55.875 253.875 " style="fill: none; stroke: #ffffff; stroke-width: 0.8; stroke-linejoin: miter; stroke-linecap: square"/>
</g>
<g id="patch_27">
<path d="M 784.875 455.625 L 784.875 253.875 " style="fill: none; stroke: #ffffff; stroke-width: 0.8; stroke-linejoin: miter; stroke-linecap: square"/>
</g>
<g id="patch_28">
<path d="M 55.875 455.625 L 663.375 455.625 " style="fill: none; stroke: #ffffff; stroke-width: 0.8; stroke-linejoin: miter; stroke-linecap: square"/>
</g>
<g id="patch_29">
<path d="M 55.875 253.875 L 663.375 253.875 " style="fill: none; stroke: #ffffff; stroke-width: 0.8; stroke-linejoin: miter; stroke-linecap: square"/>
</g>
</g>
<g id="axes_7">
<g id="FillBetweenPolyCollection_2">
<g clip-path="url(#pfa0f77e12d)">
<path d="M 55.5 -240 L 55.5 -144 L 72.375 -144 L 89.25 -144 L 106.125 -144 L 123 -144 L 139.875 -144 L 156.75 -144 L 173.625 -144 L 190.5 -144 L 207.375 -144 L 224.25 -144 L 241.125 -144 L 258 -144 L 274.875 -144 L 291.75 -144 L 308.625 -144 L 325.5 -144 L 342.375 -144 L 359.25 -144 L 376.125 -144 L 393 -144 L 409.875 -144 L 426.75 -144 L 443.625 -144 L 460.5 -144 L 477.375 -144 L 494.25 -144 L 511.125 -144 L 528 -144 L 544.875 -144 L 561.75 -144 L 561.75 -240 L 561.75 -240 L 544.875 -240 L 528 -240 L 511.125 -240 L 494.25 -240 L 477.375 -240 L 460.5 -240 L 443.625 -240 L 426.75 -240 L 409.875 -240 L 393 -240 L 376.125 -240 L 359.25 -240 L 342.375 -240 L 325.5 -240 L 308.625 -240 L 291.75 -240 L 274.875 -240 L 258 -240 L 241.125 -240 L 224.25 -240 L 207.375 -240 L 190.5 -240 L 173.625 -240 L 156.75 -240 L 139.875 -240 L 123 -240 L 106.125 -240 L 89.25 -240 L 72.375 -240 L 55.5 -240 z" transform="translate(0 720)" style="fill: #ffffc8"/>
</g>
</g>
<g id="FillBetweenPolyCollection_3">
<g clip-path="url(#pfa0f77e12d)">
<path d="M 460.5 -144 L 460.5 -46.230714 L 477.375 -46.230714 L 494.25 -46.230714 L 511.125 -46.230714 L 528 -46.230714 L 544.875 -46.230714 L 561.75 -46.230714 L 578.625 -46.230714 L 595.5 -46.230714 L 612.375 -46.230714 L 629.25 -46.230714 L 646.125 -46.230714 L 663 -46.230714 L 669.75 -46.230714 L 669.75 -144 L 669.75 -144 L 663 -144 L 646.125 -144 L 629.25 -144 L 612.375 -144 L 595.5 -144 L 578.625 -144 L 561.75 -144 L 544.875 -144 L 528 -144 L 511.125 -144 L 494.25 -144 L 477.375 -144 L 460.5 -144 z" transform="translate(0 720)" style="fill: #222222"/>
</g>
</g>
<g id="FillBetweenPolyCollection_4">
<g clip-path="url(#pfa0f77e12d)">
<path d="M 460.5 -144 L 460.5 -143.25 L 561.75 -143.25 L 561.75 -144 L 561.75 -144 L 460.5 -144 z" transform="translate(0 720)" style="fill: #121217"/>
</g>
</g>
<g id="matplotlib.axis_9">
<g id="ytick_39">
<g id="line2d_85">
<g>
<path d="M 0 0 L 3.75 0" transform="translate(784.875 672.375)" style="fill: #ffffff; stroke: #ffffff; stroke-width: 0.8"/>
</g>
</g>
<g id="text_49">
<text style="font-size: 10px; font-family: 'DejaVu Sans', 'Liberation Sans', sans-serif; text-anchor: start; fill: #ffffff" x="791.5" y="675.649219" transform="translate(0.946 0.000) matrix(1 0 0 0.930 0 47.2954)">0.0</text>
</g>
</g>
<g id="ytick_40">
<g id="line2d_86">
<g>
<path d="M 0 0 L 3.75 0" transform="translate(784.875 634.125)" style="fill: #ffffff; stroke: #ffffff; stroke-width: 0.8"/>
</g>
</g>
<g id="text_50">
<text style="font-size: 10px; font-family: 'DejaVu Sans', 'Liberation Sans', sans-serif; text-anchor: start; fill: #ffffff" x="791.5" y="637.263504" transform="translate(0.833 0.000) matrix(1 0 0 0.930 0 44.6084)">0.2</text>
</g>
</g>
<g id="ytick_41">
<g id="line2d_87">
<g>
<path d="M 0 0 L 3.75 0" transform="translate(784.875 595.125)" style="fill: #ffffff; stroke: #ffffff; stroke-width: 0.8"/>
</g>
</g>
<g id="text_51">
<text style="font-size: 10px; font-family: 'DejaVu Sans', 'Liberation Sans', sans-serif; text-anchor: start; fill: #ffffff" x="791.5" y="598.87779" transform="translate(0.858 -0.710) matrix(1 0 0 0.930 0 41.9214)">0.4</text>
</g>
</g>
<g id="ytick_42">
<g id="line2d_88">
<g>
<path d="M 0 0 L 3.75 0" transform="translate(784.875 556.875)" style="fill: #ffffff; stroke: #ffffff; stroke-width: 0.8"/>
</g>
</g>
<g id="text_52">
<text style="font-size: 10px; font-family: 'DejaVu Sans', 'Liberation Sans', sans-serif; text-anchor: start; fill: #ffffff" x="791.5" y="560.492076" transform="translate(0.787 0.000) matrix(1 0 0 0.930 0 39.2344)">0.6</text>
</g>
</g>
<g id="ytick_43">
<g id="line2d_89">
<g>
<path d="M 0 0 L 3.75 0" transform="translate(784.875 518.625)" style="fill: #ffffff; stroke: #ffffff; stroke-width: 0.8"/>
</g>
</g>
<g id="text_53">
<text style="font-size: 10px; font-family: 'DejaVu Sans', 'Liberation Sans', sans-serif; text-anchor: start; fill: #ffffff" x="791.5" y="522.106362" transform="translate(0.665 0.000) matrix(1 0 0 0.930 0 36.5474)">0.8</text>
</g>
</g>
<g id="ytick_44">
<g id="line2d_90">
<g>
<path d="M 0 0 L 3.75 0" transform="translate(784.875 480.375)" style="fill: #ffffff; stroke: #ffffff; stroke-width: 0.8"/>
</g>
</g>
<g id="text_54">
<text style="font-size: 10px; font-family: 'DejaVu Sans', 'Liberation Sans', sans-serif; text-anchor: start; fill: #ffffff" x="791.5" y="483.720647" transform="translate(0.000 0.000) matrix(1 0 0 0.930 0 33.8604)">1.0</text>
</g>
</g>
<g id="text_55">
<text style="font-size: 14px; font-family: 'DejaVu Sans', 'Liberation Sans', sans-serif; text-anchor: middle; fill: #ffffff" x="822.037" y="572.250" transform="translate(0.000 -0.386) rotate(-90 822.037 572.250)">SUN UP / AFFECTS SESSION</text>
</g>
</g>
<g id="patch_30">
<path d="M 55.875 672.375 L 55.875 470.625 " style="fill: none; stroke: #ffffff; stroke-width: 0.8; stroke-linejoin: miter; stroke-linecap: square"/>
</g>
<g id="patch_31">
<path d="M 784.875 672.375 L 784.875 470.625 " style="fill: none; stroke: #ffffff; stroke-width: 0.8; stroke-linejoin: miter; stroke-linecap: square"/>
</g>
<g id="patch_32">
<path d="M 55.875 672.375 L 663.375 672.375 " style="fill: none; stroke: #ffffff; stroke-width: 0.8; stroke-linejoin: miter; stroke-linecap: square"/>
</g>
<g id="patch_33">
<path d="M 55.875 470.625 L 663.375 470.625 " style="fill: none; stroke: #ffffff; stroke-width: 0.8; stroke-linejoin: miter; stroke-linecap: square"/>
</g>
<g id="patch_34">
<path d="M 67.275 477.375 L 170.475 477.375 Q 172.125 477.375 172.125 479.025 L 172.125 500.475 Q 172.125 502.125 170.475 502.125 L 67.275 502.125 Q 65.625 502.125 65.625 500.475 L 65.625 479.025 Q 65.625 477.375 67.275 477.375 z " style="fill-opacity: 0.8; stroke: #cccccc; stroke-opacity: 0.8; stroke-linejoin: miter"/>
</g>
<g id="patch_35">
<path d="M 69.225 480.15 L 85.875 480.15 L 85.875 485.925 L 69.225 485.925 z " style="fill: #ffffc8"/>
</g>
<g id="text_56">
<text style="font-size: 8.33px; font-family: 'DejaVu Sans', 'Liberation Sans', sans-serif; text-anchor: start; fill: #ffffff" x="92.475" y="485.925" transform="rotate(-0 92.475 485.925)">IS SUN UP</text>
</g>
<g id="patch_36">
<path d="M 69.225 492.15 L 85.875 492.15 L 85.875 497.925 L 69.225 497.925 z " style="fill: #222222"/>
</g>
<g id="text_57">
<text style="font-size: 8.33px; font-family: 'DejaVu Sans', 'Liberation Sans', sans-serif; text-anchor: start; fill: #ffffff" x="92.475" y="497.925" transform="rotate(-0 92.475 497.925)">AFFECTS SESSION</text>
</g>
</g>
<g id="axes_8">
<g id="matplotlib.axis_10">
<g id="ytick_45">
<g id="line2d_91">
<g>
<path d="M 0 0 L 3.75 0" transform="translate(663.375 669.375)" style="fill: #ffffff; stroke: #ffffff; stroke-width: 0.8"/>
</g>
</g>
<g id="text_58">
<text style="font-size: 10px; font-family: 'DejaVu Sans', 'Liberation Sans', sans-serif; text-anchor: start; fill: #ffffff" x="670.675" y="672.799219" transform="translate(-0.782 0.000) matrix(1 0 0 0.930 0 47.0959)">4.6</text>
</g>
</g>
<g id="ytick_46">
<g id="line2d_92">
<g>
<path d="M 0 0 L 3.75 0" transform="translate(663.375 630.375)" style="fill: #ffffff; stroke: #ffffff; stroke-width: 0.8"/>
</g>
</g>
<g id="text_59">
<text style="font-size: 10px; font-family: 'DejaVu Sans', 'Liberation Sans', sans-serif; text-anchor: start; fill: #ffffff" x="670.675" y="634.099219" transform="translate(-0.896 0.000) matrix(1 0 0 0.930 0 44.3869)">4.8</text>
</g>
</g>
<g id="ytick_47">
<g id="line2d_93">
<g>
<path d="M 0 0 L 3.75 0" transform="translate(663.375 592.125)" style="fill: #ffffff; stroke: #ffffff; stroke-width: 0.8"/>
</g>
</g>
<g id="text_60">
<text style="font-size: 10px; font-family: 'DejaVu Sans', 'Liberation Sans', sans-serif; text-anchor: start; fill: #ffffff" x="670.675" y="595.399219" transform="translate(-0.435 0.000) matrix(1 0 0 0.930 0 41.6779)">5.0</text>
</g>
</g>
<g id="ytick_48">
<g id="line2d_94">
<g>
<path d="M 0 0 L 3.75 0" transform="translate(663.375 553.125)" style="fill: #ffffff; stroke: #ffffff; stroke-width: 0.8"/>
</g>
</g>
<g id="text_61">
<text style="font-size: 10px; font-family: 'DejaVu Sans', 'Liberation Sans', sans-serif; text-anchor: start; fill: #ffffff" x="670.675" y="556.699219" transform="translate(-0.547 0.000) matrix(1 0 0 0.930 0 38.9689)">5.2</text>
</g>
</g>
<g id="ytick_49">
<g id="line2d_95">
<g>
<path d="M 0 0 L 3.75 0" transform="translate(663.375 514.875)" style="fill: #ffffff; stroke: #ffffff; stroke-width: 0.8"/>
</g>
</g>
<g id="text_62">
<text style="font-size: 10px; font-family: 'DejaVu Sans', 'Liberation Sans', sans-serif; text-anchor: start; fill: #ffffff" x="670.675" y="517.999219" transform="translate(-0.523 0.000) matrix(1 0 0 0.930 0 36.2599)">5.4</text>
</g>
</g>
<g id="ytick_50">
<g id="line2d_96">
<g>
<path d="M 0 0 L 3.75 0" transform="translate(663.375 475.875)" style="fill: #ffffff; stroke: #ffffff; stroke-width: 0.8"/>
</g>
</g>
<g id="text_63">
<text style="font-size: 10px; font-family: 'DejaVu Sans', 'Liberation Sans', sans-serif; text-anchor: start; fill: #ffffff" x="670.675" y="479.299219" transform="translate(-0.600 0.000) matrix(1 0 0 0.930 0 33.5509)">5.6</text>
</g>
</g>
<g id="text_64">
<text style="font-size: 14px; font-family: 'DejaVu Sans', 'Liberation Sans', sans-serif; text-anchor: middle; fill: #e41a1c" x="701.250" y="572.250" transform="translate(0.000 0.000) rotate(-90 701.250 572.250)">WIND SPEED (m/s)</text>
</g>
</g>
<g id="line2d_97">
<path d="M 55.5 527.775 L 72.375 525.975 L 89.25 527.775 L 106.125 535.65 L 123 540.9 L 139.875 545.325 L 156.75 541.425 L 173.625 520.05 L 190.5 510.675 L 207.375 483.45 L 224.25 479.4 L 241.125 483.45 L 258 487.35 L 274.875 491.4 L 291.75 495.225 L 308.625 489.075 L 325.5 493.125 L 342.375 487.35 L 359.25 485.55 L 376.125 487.35 L 393 489.075 L 409.875 493.125 L 426.75 495 L 443.625 510.375 L 460.5 525.675 L 477.375 541.05 L 494.25 556.425 L 511.125 576.5625 L 528 596.7 L 544.875 616.875 L 561.75 628.35 L 578.625 616.875 L 595.5 622.5 L 612.375 633.75 L 629.25 651.3 L 646.125 659.0625 L 663 663.075 " clip-path="url(#pfa0f77e12d)" style="fill: none; stroke: #e41a1c; stroke-width: 2; stroke-linecap: square"/>
</g>
<g id="patch_37">
<path d="M 55.875 672.375 L 55.875 470.625 " style="fill: none; stroke: #ffffff; stroke-width: 0.8; stroke-linejoin: miter; stroke-linecap: square"/>
</g>
<g id="patch_38">
<path d="M 663.375 672.375 L 663.375 470.625 " style="fill: none; stroke: #ffffff; stroke-width: 0.8; stroke-linejoin: miter; stroke-linecap: square"/>
</g>
<g id="patch_39">
<path d="M 55.875 672.375 L 663.375 672.375 " style="fill: none; stroke: #ffffff; stroke-width: 0.8; stroke-linejoin: miter; stroke-linecap: square"/>
</g>
<g id="patch_40">
<path d="M 55.875 470.625 L 663.375 470.625 " style="fill: none; stroke: #ffffff; stroke-width: 0.8; stroke-linejoin: miter; stroke-linecap: square"/>
</g>
</g>
<g id="axes_9">
<g id="matplotlib.axis_11">
<g id="xtick_19">
<g id="line2d_98">
<path d="M 89.25 672.375 L 89.25 470.625 " clip-path="url(#p5451a689c6)" style="fill: none; stroke: #696969; stroke-opacity: 0.15; stroke-width: 1.5; stroke-linecap: square"/>
</g>
<g id="line2d_99">
<g>
<path d="M 0 0 L 0 3.75" transform="translate(89.625 672.375)" style="fill: #ffffff; stroke: #ffffff; stroke-width: 0.8"/>
</g>
</g>
<g id="text_65">
<text style="font-size: 10px; font-family: 'DejaVu Sans', 'Liberation Sans', sans-serif; fill: #ffffff" transform="translate(0.157 1.514) translate(84.435001 707.991988) rotate(-60)">12:00</text>
</g>
</g>
<g id="xtick_20">
<g id="line2d_100">
<path d="M 156.75 672.375 L 156.75 470.625 " clip-path="url(#p5451a689c6)" style="fill: none; stroke: #696969; stroke-opacity: 0.15; stroke-width: 1.5; stroke-linecap: square"/>
</g>
<g id="line2d_101">
<g>
<path d="M 0 0 L 0 3.75" transform="translate(157.125 672.375)" style="fill: #ffffff; stroke: #ffffff; stroke-width: 0.8"/>
</g>
</g>
<g id="text_66">
<text style="font-size: 10px; font-family: 'DejaVu Sans', 'Liberation Sans', sans-serif; fill: #ffffff" transform="translate(0.000 0.797) translate(151.935001 707.991988) rotate(-60)">13:00</text>
</g>
</g>
<g id="xtick_21">
<g id="line2d_102">
<path d="M 224.25 672.375 L 224.25 470.625 " clip-path="url(#p5451a689c6)" style="fill: none; stroke: #696969; stroke-opacity: 0.15; stroke-width: 1.5; stroke-linecap: square"/>
</g>
<g id="line2d_103">
<g>
<path d="M 0 0 L 0 3.75" transform="translate(224.625 672.375)" style="fill: #ffffff; stroke: #ffffff; stroke-width: 0.8"/>
</g>
</g>
<g id="text_67">
<text style="font-size: 10px; font-family: 'DejaVu Sans', 'Liberation Sans', sans-serif; fill: #ffffff" transform="translate(0.000 0.891) translate(219.435001 707.991988) rotate(-60)">14:00</text>
</g>
</g>
<g id="xtick_22">
<g id="line2d_104">
<path d="M 291.75 672.375 L 291.75 470.625 " clip-path="url(#p5451a689c6)" style="fill: none; stroke: #696969; stroke-opacity: 0.15; stroke-width: 1.5; stroke-linecap: square"/>
</g>
<g id="line2d_105">
<g>
<path d="M 0 0 L 0 3.75" transform="translate(292.125 672.375)" style="fill: #ffffff; stroke: #ffffff; stroke-width: 0.8"/>
</g>
</g>
<g id="text_68">
<text style="font-size: 10px; font-family: 'DejaVu Sans', 'Liberation Sans', sans-serif; fill: #ffffff" transform="translate(0.000 0.825) translate(286.935001 707.991988) rotate(-60)">15:00</text>
</g>
</g>
<g id="xtick_23">
<g id="line2d_106">
<path d="M 359.25 672.375 L 359.25 470.625 " clip-path="url(#p5451a689c6)" style="fill: none; stroke: #696969; stroke-opacity: 0.15; stroke-width: 1.5; stroke-linecap: square"/>
</g>
<g id="line2d_107">
<g>
<path d="M 0 0 L 0 3.75" transform="translate(359.625 672.375)" style="fill: #ffffff; stroke: #ffffff; stroke-width: 0.8"/>
</g>
</g>
<g id="text_69">
<text style="font-size: 10px; font-family: 'DejaVu Sans', 'Liberation Sans', sans-serif; fill: #ffffff" transform="translate(0.000 0.864) translate(354.435001 707.991988) rotate(-60)">16:00</text>
</g>
</g>
<g id="xtick_24">
<g id="line2d_108">
<path d="M 426.75 672.375 L 426.75 470.625 " clip-path="url(#p5451a689c6)" style="fill: none; stroke: #696969; stroke-opacity: 0.15; stroke-width: 1.5; stroke-linecap: square"/>
</g>
<g id="line2d_109">
<g>
<path d="M 0 0 L 0 3.75" transform="translate(427.125 672.375)" style="fill: #ffffff; stroke: #ffffff; stroke-width: 0.8"/>
</g>
</g>
<g id="text_70">
<text style="font-size: 10px; font-family: 'DejaVu Sans', 'Liberation Sans', sans-serif; fill: #ffffff" transform="translate(0.000 0.813) translate(421.935001 707.991988) rotate(-60)">17:00</text>
</g>
</g>
<g id="xtick_25">
<g id="line2d_110">
<path d="M 494.25 672.375 L 494.25 470.625 " clip-path="url(#p5451a689c6)" style="fill: none; stroke: #696969; stroke-opacity: 0.15; stroke-width: 1.5; stroke-linecap: square"/>
</g>
<g id="line2d_111">
<g>
<path d="M 0 0 L 0 3.75" transform="translate(494.625 672.375)" style="fill: #ffffff; stroke: #ffffff; stroke-width: 0.8"/>
</g>
</g>
<g id="text_71">
<text style="font-size: 10px; font-family: 'DejaVu Sans', 'Liberation Sans', sans-serif; fill: #ffffff" transform="translate(0.000 0.856) translate(489.435001 707.991988) rotate(-60)">18:00</text>
</g>
</g>
<g id="xtick_26">
<g id="line2d_112">
<path d="M 561.75 672.375 L 561.75 470.625 " clip-path="url(#p5451a689c6)" style="fill: none; stroke: #696969; stroke-opacity: 0.15; stroke-width: 1.5; stroke-linecap: square"/>
</g>
<g id="line2d_113">
<g>
<path d="M 0 0 L 0 3.75" transform="translate(562.125 672.375)" style="fill: #ffffff; stroke: #ffffff; stroke-width: 0.8"/>
</g>
</g>
<g id="text_72">
<text style="font-size: 10px; font-family: 'DejaVu Sans', 'Liberation Sans', sans-serif; fill: #ffffff" transform="translate(0.000 1.512) translate(556.935001 707.991988) rotate(-60)">19:00</text>
</g>
</g>
<g id="xtick_27">
<g id="line2d_114">
<path d="M 629.25 672.375 L 629.25 470.625 " clip-path="url(#p5451a689c6)" style="fill: none; stroke: #696969; stroke-opacity: 0.15; stroke-width: 1.5; stroke-linecap: square"/>
</g>
<g id="line2d_115">
<g>
<path d="M 0 0 L 0 3.75" transform="translate(629.625 672.375)" style="fill: #ffffff; stroke: #ffffff; stroke-width: 0.8"/>
</g>
</g>
<g id="text_73">
<text style="font-size: 10px; font-family: 'DejaVu Sans', 'Liberation Sans', sans-serif; fill: #ffffff" transform="translate(0.423 1.007) translate(624.435001 707.991988) rotate(-60)">20:00</text>
</g>
</g>
</g>
<g id="matplotlib.axis_12">
<g id="ytick_51">
<g id="line2d_116">
<g>
<path d="M 0 0 L -3.75 0" transform="translate(55.875 672.375)" style="fill: #ffffff; stroke: #ffffff; stroke-width: 0.8"/>
</g>
</g>
<g id="text_74">
<text style="font-size: 10px; font-family: 'DejaVu Sans', 'Liberation Sans', sans-serif; text-anchor: end; fill: #ffffff" x="48.5" y="675.649219" transform="translate(0.596 0.000) matrix(1 0 0 0.930 0 47.2954)">0</text>
</g>
</g>
<g id="ytick_52">
<g id="line2d_117">
<g>
<path d="M 0 0 L -3.75 0" transform="translate(55.875 643.875)" style="fill: #ffffff; stroke: #ffffff; stroke-width: 0.8"/>
</g>
</g>
<g id="text_75">
<text style="font-size: 10px; font-family: 'DejaVu Sans', 'Liberation Sans', sans-serif; text-anchor: end; fill: #ffffff" x="48.5" y="647.659635" transform="translate(0.000 -0.712) matrix(1 0 0 0.930 0 45.3362)">50</text>
</g>
</g>
<g id="ytick_53">
<g id="line2d_118">
<g>
<path d="M 0 0 L -3.75 0" transform="translate(55.875 616.125)" style="fill: #ffffff; stroke: #ffffff; stroke-width: 0.8"/>
</g>
</g>
<g id="text_76">
<text style="font-size: 10px; font-family: 'DejaVu Sans', 'Liberation Sans', sans-serif; text-anchor: end; fill: #ffffff" x="48.5" y="619.670052" transform="translate(0.000 0.000) matrix(1 0 0 0.930 0 43.3769)">100</text>
</g>
</g>
<g id="ytick_54">
<g id="line2d_119">
<g>
<path d="M 0 0 L -3.75 0" transform="translate(55.875 588.375)" style="fill: #ffffff; stroke: #ffffff; stroke-width: 0.8"/>
</g>
</g>
<g id="text_77">
<text style="font-size: 10px; font-family: 'DejaVu Sans', 'Liberation Sans', sans-serif; text-anchor: end; fill: #ffffff" x="48.5" y="591.680469" transform="translate(0.000 0.000) matrix(1 0 0 0.930 0 41.4176)">150</text>
</g>
</g>
<g id="ytick_55">
<g id="line2d_120">
<g>
<path d="M 0 0 L -3.75 0" transform="translate(55.875 560.625)" style="fill: #ffffff; stroke: #ffffff; stroke-width: 0.8"/>
</g>
</g>
<g id="text_78">
<text style="font-size: 10px; font-family: 'DejaVu Sans', 'Liberation Sans', sans-serif; text-anchor: end; fill: #ffffff" x="48.5" y="563.690885" transform="translate(0.000 0.000) matrix(1 0 0 0.930 0 39.4584)">200</text>
</g>
</g>
<g id="ytick_56">
<g id="line2d_121">
<g>
<path d="M 0 0 L -3.75 0" transform="translate(55.875 532.125)" style="fill: #ffffff; stroke: #ffffff; stroke-width: 0.8"/>
</g>
</g>
<g id="text_79">
<text style="font-size: 10px; font-family: 'DejaVu Sans', 'Liberation Sans', sans-serif; text-anchor: end; fill: #ffffff" x="48.5" y="535.701302" transform="translate(0.000 0.000) matrix(1 0 0 0.930 0 37.4991)">250</text>
</g>
</g>
<g id="ytick_57">
<g id="line2d_122">
<g>
<path d="M 0 0 L -3.75 0" transform="translate(55.875 504.375)" style="fill: #ffffff; stroke: #ffffff; stroke-width: 0.8"/>
</g>
</g>
<g id="text_80">
<text style="font-size: 10px; font-family: 'DejaVu Sans', 'Liberation Sans', sans-serif; text-anchor: end; fill: #ffffff" x="48.5" y="507.711719" transform="translate(0.000 0.000) matrix(1 0 0 0.930 0 35.5398)">300</text>
</g>
</g>
<g id="ytick_58">
<g id="line2d_123">
<g>
<path d="M 0 0 L -3.75 0" transform="translate(55.875 476.625)" style="fill: #ffffff; stroke: #ffffff; stroke-width: 0.8"/>
</g>
</g>
<g id="text_81">
<text style="font-size: 10px; font-family: 'DejaVu Sans', 'Liberation Sans', sans-serif; text-anchor: end; fill: #ffffff" x="48.5" y="479.722135" transform="translate(0.000 0.000) matrix(1 0 0 0.930 0 33.5805)">350</text>
</g>
</g>
<g id="text_82">
<text style="font-size: 14px; font-family: 'DejaVu Sans', 'Liberation Sans', sans-serif; text-anchor: middle; fill: #4daf4a" x="21.000" y="572.250" transform="translate(0.766 -0.487) rotate(-90 21.000 572.250)">WIND DIR (deg)</text>
</g>
</g>
<g id="line2d_124">
<path d="M 55.5 667.725 L 72.375 667.275 L 89.25 667.275 L 106.125 668.325 L 123 669.825 L 139.875 671.25 L 156.75 472.05 L 173.625 473.175 L 190.5 474.3 L 207.375 475.35 L 224.25 476.25 L 241.125 477.225 L 258 478.2 L 274.875 479.925 L 291.75 482.025 L 308.625 484.35 L 325.5 486.45 L 342.375 487.875 L 359.25 489.075 L 376.125 489.75 L 393 489.975 L 409.875 489.525 L 426.75 489.525 L 443.625 492.45 L 460.5 499.425 L 477.375 508.35 L 494.25 518.175 L 511.125 527.1 L 528 532.5 L 544.875 534.15 L 561.75 533.7 L 578.625 533.7 L 595.5 536.025 L 612.375 539.775 L 629.25 541.875 L 646.125 542.55 L 663 545.4 " clip-path="url(#p5451a689c6)" style="fill: none; stroke: #4daf4a; stroke-width: 2; stroke-linecap: square"/>
</g>
<g id="patch_41">
<path d="M 55.875 672.375 L 55.875 470.625 " style="fill: none; stroke: #ffffff; stroke-width: 0.8; stroke-linejoin: miter; stroke-linecap: square"/>
</g>
<g id="patch_42">
<path d="M 663.375 672.375 L 663.375 470.625 " style="fill: none; stroke: #ffffff; stroke-width: 0.8; stroke-linejoin: miter; stroke-linecap: square"/>
</g>
<g id="patch_43">
<path d="M 55.875 672.375 L 663.375 672.375 " style="fill: none; stroke: #ffffff; stroke-width: 0.8; stroke-linejoin: miter; stroke-linecap: square"/>
</g>
<g id="patch_44">
<path d="M 55.875 470.625 L 663.375 470.625 " style="fill: none; stroke: #ffffff; stroke-width: 0.8; stroke-linejoin: miter; stroke-linecap: square"/>
</g>
</g>
<g id="text_83">
<text style="font-size: 16px; font-family: 'DejaVu Sans', 'Liberation Sans', sans-serif; text-anchor: middle; fill: #ffffff" x="432" y="26.5575" transform="translate(0.585 0.000) rotate(-0 432 26.5575)">Big Block Modified Series - 2025 Season 4 2025S4 Week5 @ USA International Speedway</text>
</g>
</g>
<defs>
<clipPath id="p9fe9e23283">
<rect x="55.875" y="37.875" width="607.5" height="201.75"/>
</clipPath>
<clipPath id="pb48f5ffb36">
<rect x="55.875" y="37.875" width="607.5" height="201.75"/>
</clipPath>
<clipPath id="p041c2277cc">
<rect x="55.875" y="253.875" width="607.5" height="201.75"/>
</clipPath>
<clipPath id="pfa0f77e12d">
<rect x="55.875" y="470.625" width="607.5" height="201.75"/>
</clipPath>
<clipPath id="p5451a689c6">
<rect x="55.875" y="470.625" width="607.5" height="201.75"/>
</clipPath>
</defs>
</svg> 
</body>
</html>
